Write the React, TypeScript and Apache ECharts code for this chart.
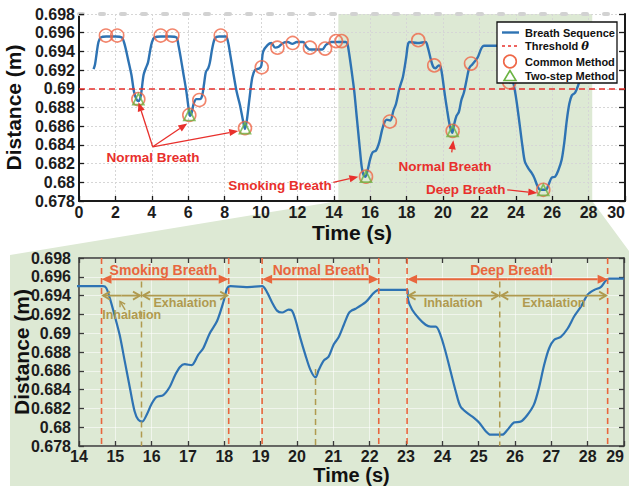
import React, { useEffect, useRef } from "react";
import * as echarts from "echarts";

const FONT = '"Liberation Sans", Arial, Helvetica, sans-serif';

// Breath sequence: time (s) and measured distance (m)
const times = [
  0.8, 0.88, 0.97, 1.07, 1.2, 1.5, 2.0, 2.35, 2.5, 2.69, 2.88, 3.02, 3.15, 3.25, 3.35, 3.43,
  3.55, 3.67, 3.79, 3.9, 4.01, 4.15, 4.5, 5.0, 5.35, 5.47, 5.6, 5.72, 5.9, 6.03, 6.1, 6.2,
  6.3, 6.45, 6.65, 6.77, 6.87, 6.97, 7.1, 7.19, 7.32, 7.47, 7.7, 8.07, 8.19, 8.29, 8.47,
  8.66, 8.84, 9.02, 9.12, 9.22, 9.37, 9.52, 9.67, 9.92, 10.02, 10.12, 10.37, 10.57, 10.77,
  10.97, 11.21, 11.47, 11.72, 11.97, 12.32, 12.49, 12.67, 13.37, 13.57, 13.87, 14.3, 14.66,
  14.75, 14.85, 14.98, 15.12, 15.26, 15.4, 15.53, 15.63, 15.74, 15.86, 16.0, 16.13, 16.32,
  16.5, 16.64, 16.78, 16.91, 17.1, 17.28, 17.42, 17.6, 17.8, 17.98, 18.07, 18.17, 18.6,
  19.04, 19.17, 19.31, 19.45, 19.59, 19.77, 19.86, 19.96, 20.09, 20.23, 20.37, 20.51, 20.6,
  20.74, 20.87, 21.01, 21.15, 21.29, 21.42, 21.5, 21.61, 21.89, 22.25, 23.04, 23.06, 23.17,
  23.35, 23.54, 23.68, 23.82, 23.95, 24.09, 24.23, 24.37, 24.5, 24.69, 24.87, 25.01, 25.19,
  25.33, 25.65, 25.79, 25.97, 26.16, 26.34, 26.52, 26.66, 26.8, 26.94, 27.08, 27.26, 27.45,
  27.63, 27.81, 28.0, 28.18, 28.36, 28.5, 28.59, 29.0,
];
const distances = [
  0.6921, 0.6926, 0.6938, 0.695, 0.6955, 0.6956, 0.6956, 0.6955, 0.6948, 0.6932, 0.6915,
  0.6897, 0.6889, 0.6887, 0.6889, 0.6897, 0.6915, 0.6922, 0.6928, 0.694, 0.695, 0.6955,
  0.6956, 0.6956, 0.6955, 0.6946, 0.6932, 0.6918, 0.6897, 0.6878, 0.6871, 0.6875, 0.6884,
  0.6889, 0.6889, 0.6893, 0.6905, 0.6918, 0.6922, 0.6928, 0.6943, 0.6954, 0.6956, 0.6956,
  0.695, 0.6939, 0.6918, 0.6897, 0.6883, 0.6865, 0.6857, 0.6866, 0.689, 0.6912, 0.692,
  0.6922, 0.6925, 0.694, 0.6947, 0.6949, 0.6944, 0.6945, 0.6949, 0.695, 0.6948, 0.695,
  0.695, 0.6945, 0.6942, 0.6942, 0.6947, 0.695, 0.695, 0.695, 0.6948, 0.6937, 0.6919,
  0.6898, 0.687, 0.6842, 0.6817, 0.6808, 0.6806, 0.6813, 0.6825, 0.6832, 0.6834, 0.6843,
  0.6855, 0.6864, 0.6867, 0.6866, 0.6877, 0.6884, 0.69, 0.6913, 0.6934, 0.6947, 0.695,
  0.6949, 0.695, 0.6944, 0.6933, 0.6924, 0.6922, 0.6925, 0.6924, 0.6914, 0.6895, 0.6877,
  0.6861, 0.6853, 0.6861, 0.6871, 0.6875, 0.6888, 0.6896, 0.6909, 0.6921, 0.6924, 0.6926,
  0.6933, 0.6946, 0.6946, 0.6935, 0.6925, 0.6916, 0.6909, 0.6907, 0.6907, 0.6898, 0.688,
  0.6859, 0.6838, 0.6822, 0.6815, 0.681, 0.6805, 0.6796, 0.6792, 0.6792, 0.6797, 0.6805,
  0.6806, 0.6813, 0.6824, 0.6842, 0.6866, 0.6884, 0.6893, 0.6896, 0.6905, 0.6918, 0.6928,
  0.6941, 0.6946, 0.6949, 0.6956, 0.6958, 0.6958,
];

// Extreme points picked by each detector
const commonT = [
  1.48, 2.1, 3.26, 4.49, 5.13, 6.06, 6.61, 7.79, 9.12, 10.04, 10.9, 11.74, 12.69, 13.52,
  14.12, 14.43, 15.77, 17.08, 18.64, 19.52, 20.53, 21.54, 23.64, 25.51,
];
const commonV = [
  0.6957, 0.6957, 0.6889, 0.6957, 0.6957, 0.6872, 0.6888, 0.6957, 0.6858, 0.6923, 0.6944,
  0.6949, 0.6944, 0.6943, 0.6951, 0.6951, 0.6806, 0.6865, 0.6952, 0.6925, 0.6855, 0.6927,
  0.6907, 0.6792,
];
const twoStepT = [3.26, 6.06, 9.12, 15.77, 20.53, 25.51];
const twoStepV = [0.6889, 0.6872, 0.6858, 0.6806, 0.6855, 0.6792];
const thresholdTheta = 0.6898;

// Axes
const distanceMin = 0.678;
const distanceMax = 0.698;
const distanceStep = 0.002;
const overviewTime = [0, 30];
const overviewStep = 2;
const detailTime = [14, 29];
const detailStep = 1;
const highlightSpan = [14.25, 28.2];

// Overview annotations
const noteTexts = ["Normal Breath", "Smoking Breath", "Normal Breath", "Deep Breath"];
const noteT = [4.07, 11.05, 20.11, 21.25];
const noteV = [0.6827, 0.6797, 0.6817, 0.67922];
const pointerFromT = [4.05, 4.05, 4.05, 13.97, 20.48, 23.53];
const pointerFromV = [0.6838, 0.6838, 0.6838, 0.68, 0.6832, 0.67919];
const pointerToT = [3.27, 5.95, 8.75, 15.35, 20.57, 25.18];
const pointerToV = [0.68855, 0.6863, 0.6855, 0.6806, 0.6845, 0.67886];

// Detail annotations
const breathNames = ["Smoking Breath", "Normal Breath", "Deep Breath"];
const breathStart = [14.62, 19.04, 23.03];
const breathEnd = [18.12, 22.25, 28.55];
const breathLabelT = [16.32, 20.66, 25.9];
const breathArrowV = 0.69575;
const breathLabelV = 0.6967;
const turnT = [15.72, 20.51, 25.58];
const turnTopV = [0.6955, 0.6862, 0.6955];
const phaseNames = ["Inhalation", "Exhalation", "Inhalation", "Exhalation"];
const phaseStart = [14.62, 15.72, 23.03, 25.58];
const phaseEnd = [15.72, 18.12, 25.58, 28.55];
const phaseLabelT = [15.45, 16.92, 24.3, 27.07];
const phaseLabelV = [0.69194, 0.69318, 0.69324, 0.69324];
const phaseArrowV = 0.694;
const inhalePointerT = [15.27, 15.13];
const inhalePointerV = [0.69247, 0.69338];

const BLUE = "#2e73b3";
const RED = "#e8302c";
const ORANGE = "#e8663d";
const OLIVE = "#b09a4f";
const CIRCLE = "#ef6747";
const TRIANGLE = "#6cb443";
const SHADE = "#dde9d4";
const INK = "#1c1c1c";

const fmtDistance = (v: number) => String(Number(v.toFixed(3)));

function buildOption(): any {
  const seq = times.map((t, i) => [t, distances[i]]);
  const tickLabel = { color: INK, fontSize: 16, fontWeight: "bold", fontFamily: FONT };
  const axisName = { color: "#111", fontSize: 21, fontWeight: "bold", fontFamily: FONT };
  const topLine = { show: true, onZero: false, lineStyle: { color: "#1a1a1a", width: 2 } };
  const boxLine = { show: true, onZero: false, lineStyle: { color: "#3a3a3a", width: 1.5 } };
  const dotted = { show: true, lineStyle: { color: "#d6d6d6", type: [2, 2], width: 1 } };
  const faint = { show: true, lineStyle: { color: "rgba(255,255,255,0.55)", width: 1 } };
  const tickIn = (c: string) => ({ show: true, inside: true, length: 5, lineStyle: { color: c, width: 1.3 } });

  return {
    animation: false,
    backgroundColor: "#ffffff",
    grid: [
      { left: 79, top: 14, width: 546, height: 187, outerBoundsMode: "none" },
      { left: 79, top: 258, width: 545, height: 188, outerBoundsMode: "none" },
    ],
    xAxis: [
      {
        gridIndex: 0, type: "value", min: overviewTime[0], max: overviewTime[1], interval: overviewStep,
        axisLine: topLine, axisTick: tickIn("#1a1a1a"),
        axisLabel: { ...tickLabel, margin: 3, alignMaxLabel: "right" },
        splitLine: dotted, name: "Time (s)", nameLocation: "middle", nameGap: 21, nameTextStyle: axisName,
      },
      {
        gridIndex: 0, type: "value", position: "top", min: overviewTime[0], max: overviewTime[1],
        axisLine: { show: true, onZero: false, lineStyle: { color: "#d2d2d2", width: 4, type: [4, 17] } },
        axisTick: { show: false }, axisLabel: { show: false }, splitLine: { show: false },
      },
      {
        gridIndex: 1, type: "value", min: detailTime[0], max: detailTime[1], interval: detailStep,
        axisLine: boxLine, axisTick: tickIn("#3a3a3a"),
        axisLabel: { ...tickLabel, margin: 2, alignMaxLabel: "right" },
        splitLine: faint, name: "Time (s)", nameLocation: "middle", nameGap: 19, nameMoveOverlap: false,
        nameTextStyle: { ...axisName, fontSize: 20 },
      },
      {
        gridIndex: 1, type: "value", position: "top", min: detailTime[0], max: detailTime[1], interval: detailStep,
        axisLine: boxLine, axisTick: tickIn("#3a3a3a"), axisLabel: { show: false }, splitLine: { show: false },
      },
    ],
    yAxis: [
      {
        gridIndex: 0, type: "value", min: distanceMin, max: distanceMax, interval: distanceStep,
        axisLine: topLine, axisTick: tickIn("#1a1a1a"),
        axisLabel: { ...tickLabel, margin: 4, formatter: fmtDistance },
        splitLine: dotted, name: "Distance (m)", nameLocation: "middle", nameGap: 47, nameTextStyle: axisName,
      },
      {
        gridIndex: 0, type: "value", position: "right", min: distanceMin, max: distanceMax, interval: distanceStep,
        axisLine: topLine, axisTick: { ...tickIn("#1a1a1a"), length: 6 }, axisLabel: { show: false }, splitLine: { show: false },
      },
      {
        gridIndex: 1, type: "value", min: distanceMin, max: distanceMax, interval: distanceStep,
        axisLine: boxLine, axisTick: tickIn("#3a3a3a"),
        axisLabel: { ...tickLabel, margin: 8, formatter: fmtDistance },
        splitLine: faint, name: "Distance (m)", nameLocation: "middle", nameGap: 47, nameMoveOverlap: false,
        nameTextStyle: axisName,
      },
      {
        gridIndex: 1, type: "value", position: "right", min: distanceMin, max: distanceMax, interval: distanceStep,
        axisLine: boxLine, axisTick: tickIn("#3a3a3a"), axisLabel: { show: false }, splitLine: { show: false },
      },
    ],
    series: [
      {
        name: "Breath Sequence", type: "line", xAxisIndex: 0, yAxisIndex: 0, data: seq,
        showSymbol: false, smooth: 0.3, z: 3, lineStyle: { color: BLUE, width: 2.4 },
        markLine: {
          silent: true, symbol: "none", label: { show: false },
          lineStyle: { color: RED, type: [6, 4], width: 1.6 },
          data: [{ yAxis: thresholdTheta }],
        },
      },
      {
        name: "Common Method", type: "scatter", xAxisIndex: 0, yAxisIndex: 0, z: 4,
        data: commonT.map((t, i) => [t, commonV[i]]), symbol: "circle", symbolSize: 13,
        itemStyle: { color: "rgba(0,0,0,0)", borderColor: CIRCLE, borderWidth: 1.6 },
      },
      {
        name: "Two-step Method", type: "scatter", xAxisIndex: 0, yAxisIndex: 0, z: 5,
        data: twoStepT.map((t, i) => [t, twoStepV[i]]), symbol: "triangle", symbolSize: 11,
        itemStyle: { color: "rgba(0,0,0,0)", borderColor: TRIANGLE, borderWidth: 1.7 },
      },
      {
        name: "Breath Sequence (detail)", type: "line", xAxisIndex: 2, yAxisIndex: 2, data: seq,
        showSymbol: false, smooth: 0.3, z: 3, lineStyle: { color: BLUE, width: 2.2 },
      },
    ],
  };
}

function buildGraphics(chart: any, height: number): any[] {
  const p0 = (t: number, v: number): number[] => chart.convertToPixel({ xAxisIndex: 0, yAxisIndex: 0 }, [t, v]);
  const p1 = (t: number, v: number): number[] => chart.convertToPixel({ xAxisIndex: 2, yAxisIndex: 2 }, [t, v]);
  const g: any[] = [];
  const Z = 30;

  // shaded zoom region: band in the overview, funnel, detail panel
  const bTL = p0(highlightSpan[0], distanceMax);
  const bTR = p0(highlightSpan[1], distanceMax);
  const bBR = p0(highlightSpan[1], distanceMin);
  const bBL = p0(highlightSpan[0], distanceMin);
  const dTL = p1(detailTime[0], distanceMax);
  const dBR = p1(detailTime[1], distanceMin);
  const panelL = dTL[0] - 69;
  const panelT = dTL[1] - 3;
  const panelR = dBR[0] + 8;
  g.push({
    type: "polygon", silent: true, z: -10,
    shape: { points: [bTL, bTR, bBR, [panelR, panelT], [panelR, height], [panelL, height], [panelL, panelT], bBL] },
    style: { fill: SHADE },
  });

  const seg = (a: number[], b: number[], stroke: string, lineWidth: number, lineDash?: number[]) =>
    g.push({
      type: "line", silent: true, z: Z,
      shape: { x1: a[0], y1: a[1], x2: b[0], y2: b[1] },
      style: { stroke, lineWidth, lineDash: lineDash || null },
    });
  const headPts = (from: number[], tip: number[], len: number, half: number) => {
    const dx = tip[0] - from[0];
    const dy = tip[1] - from[1];
    const L = Math.hypot(dx, dy) || 1;
    const ux = dx / L;
    const uy = dy / L;
    const bx = tip[0] - ux * len;
    const by = tip[1] - uy * len;
    return { base: [bx, by], l: [bx - uy * half, by + ux * half], r: [bx + uy * half, by - ux * half] };
  };
  const solidArrow = (from: number[], tip: number[], color: string, w: number, len: number, half: number) => {
    const h = headPts(from, tip, len, half);
    seg(from, h.base, color, w);
    g.push({ type: "polygon", silent: true, z: Z, shape: { points: [tip, h.l, h.r] }, style: { fill: color } });
  };
  const openArrow = (from: number[], tip: number[], color: string, w: number, len: number, half: number) => {
    const h = headPts(from, tip, len, half);
    seg(from, tip, color, w);
    g.push({
      type: "polyline", silent: true, z: Z,
      shape: { points: [h.l, tip, h.r] }, style: { stroke: color, lineWidth: w, fill: null },
    });
  };
  const text = (s: string, p: number[], fill: string, size: number, align = "center") =>
    g.push({
      type: "text", silent: true, z: Z + 1,
      style: {
        text: s, x: p[0], y: p[1], fill, fontSize: size, fontWeight: "bold", fontFamily: FONT,
        align, verticalAlign: "middle", textAlign: align, textVerticalAlign: "middle",
      },
    });

  // overview annotations
  noteTexts.forEach((s, i) => text(s, p0(noteT[i], noteV[i]), RED, 13.5));
  pointerFromT.forEach((t, i) =>
    solidArrow(p0(t, pointerFromV[i]), p0(pointerToT[i], pointerToV[i]), RED, 1.3, 9, 3.6)
  );

  // detail: breath boundaries
  const boundaries = [...breathStart, ...breathEnd];
  boundaries.forEach((t) => seg(p1(t, distanceMax), p1(t, distanceMin), ORANGE, 1.6, [6, 4]));
  turnT.forEach((t, i) => seg(p1(t, turnTopV[i]), p1(t, distanceMin), OLIVE, 1.5, [6, 4]));

  breathNames.forEach((s, i) => {
    const a = p1(breathStart[i], breathArrowV);
    const b = p1(breathEnd[i], breathArrowV);
    const m = [(a[0] + b[0]) / 2, a[1]];
    solidArrow(m, a, ORANGE, 2, 10, 4.5);
    solidArrow(m, b, ORANGE, 2, 10, 4.5);
    text(s, p1(breathLabelT[i], breathLabelV), ORANGE, 14);
  });

  phaseNames.forEach((s, i) => {
    const a = p1(phaseStart[i], phaseArrowV);
    const b = p1(phaseEnd[i], phaseArrowV);
    const m = [(a[0] + b[0]) / 2, a[1]];
    openArrow(m, [a[0] + 1.5, a[1]], OLIVE, 1.8, 7, 4);
    openArrow(m, [b[0] - 1.5, b[1]], OLIVE, 1.8, 7, 4);
    text(s, p1(phaseLabelT[i], phaseLabelV[i]), OLIVE, 12.5);
  });
  openArrow(
    p1(inhalePointerT[0], inhalePointerV[0]),
    p1(inhalePointerT[1], inhalePointerV[1]),
    OLIVE, 1.4, 5, 3
  );

  // legend
  const corner = p0(overviewTime[1], distanceMax);
  const bx = corner[0] - 128;
  const by = corner[1] + 8;
  g.push({
    type: "rect", silent: true, z: 40,
    shape: { x: bx, y: by, width: 120, height: 61 },
    style: { fill: "#ffffff", stroke: "#111", lineWidth: 1.3 },
  });
  const rows = [by + 10.5, by + 24, by + 39.5, by + 54];
  const lx = bx + 13;
  g.push({ type: "line", silent: true, z: 41, shape: { x1: bx + 5, y1: rows[0], x2: bx + 22, y2: rows[0] }, style: { stroke: BLUE, lineWidth: 2.4 } });
  g.push({ type: "line", silent: true, z: 41, shape: { x1: bx + 5, y1: rows[1], x2: bx + 22, y2: rows[1] }, style: { stroke: RED, lineWidth: 1.6, lineDash: [3, 3] } });
  g.push({ type: "circle", silent: true, z: 41, shape: { cx: lx, cy: rows[2], r: 6.3 }, style: { fill: null, stroke: CIRCLE, lineWidth: 1.6 } });
  g.push({
    type: "polygon", silent: true, z: 41,
    shape: { points: [[lx, rows[3] - 5.5], [lx - 6, rows[3] + 4.5], [lx + 6, rows[3] + 4.5]] },
    style: { fill: null, stroke: TRIANGLE, lineWidth: 1.6 },
  });
  const legendText = (s: string, y: number) =>
    g.push({
      type: "text", silent: true, z: 42,
      style: {
        text: s, x: bx + 28, y, fill: "#111", fontSize: 11, fontWeight: "bold", fontFamily: FONT,
        align: "left", verticalAlign: "middle", textAlign: "left", textVerticalAlign: "middle",
        rich: {
          n: { fontSize: 11, fontWeight: "bold", fontFamily: FONT, fill: "#111" },
          t: { fontSize: 11.5, fontWeight: "bold", fontStyle: "italic", fontFamily: '"DejaVu Serif", serif', fill: "#111" },
        },
      },
    });
  legendText("Breath Sequence", rows[0]);
  legendText("{n|Threshold }{t|θ}", rows[1]);
  legendText("Common Method", rows[2]);
  legendText("Two-step Method", rows[3]);

  return g;
}

export default function App() {
  const ref = useRef<HTMLDivElement>(null);
  useEffect(() => {
    const el = ref.current;
    if (!el) return;
    const chart = echarts.init(el, null, { renderer: "svg" });
    chart.setOption(buildOption());
    chart.setOption({ graphic: buildGraphics(chart, el.clientHeight) });
    return () => chart.dispose();
  }, []);
  return (
    <div
      ref={ref}
      style={{ position: "fixed", left: 0, top: 0, width: 629, height: 486, background: "#fff" }}
    />
  );
}
